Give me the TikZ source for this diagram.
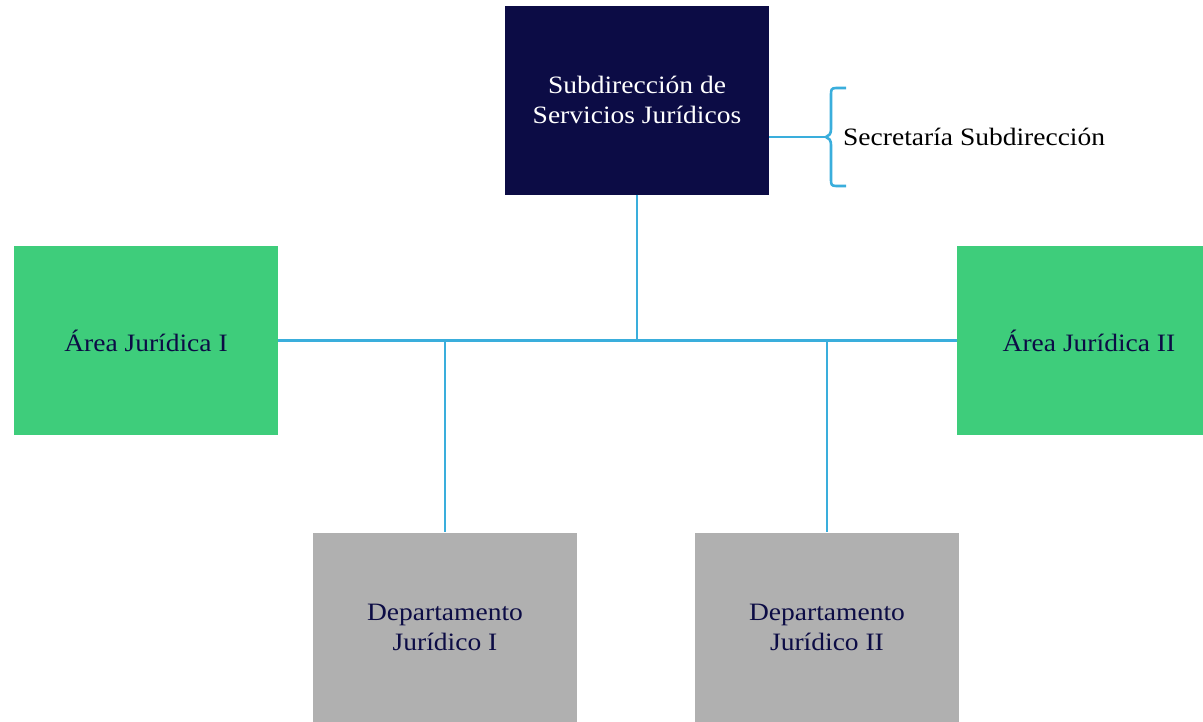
\documentclass[tikz,border=0pt]{standalone}
\usepackage{fontspec}
\setmainfont[FakeStretch=1.1]{Liberation Serif}
\begin{document}
\begin{tikzpicture}[x=1pt,y=-1pt,
  lbl/.style={font=\fontsize{25}{30}\selectfont},
  box/.style={rectangle, inner sep=0pt, minimum width=264pt, minimum height=189pt, align=center, lbl},
  topbox/.style={box, fill=navy, text=white},
  areabox/.style={box, fill=green, text=navy},
  deptbox/.style={box, fill=grayb, text=navy},
  link/.style={draw=linkblue, line width=2.8pt},
]
\definecolor{navy}{HTML}{0C0C45}
\definecolor{green}{HTML}{3ECD7B}
\definecolor{grayb}{HTML}{B0B0B0}
\definecolor{linkblue}{HTML}{3AAEDC}
\useasboundingbox (0,0) rectangle (1203,721);
\clip (0,0) rectangle (1203,721);
\node[topbox] (top) at (637,100) {Subdirección de\\Servicios Jurídicos};
\node[areabox] (a1) at (146,340.5) {Área Jurídica I};
\node[areabox] (a2) at (1089,340.5) {Área Jurídica II};
\node[deptbox] (d1) at (445,627) {Departamento\\Jurídico I};
\node[deptbox] (d2) at (827,627) {Departamento\\Jurídico II};
\coordinate (hub) at (637,340.5);
\coordinate (j1) at (445,340.5);
\coordinate (j2) at (827,340.5);
\coordinate (tip) at (826,137);
\node[anchor=west, lbl, text=black, inner sep=0pt] (sec) at (843,137) {Secretaría Subdirección};
\draw[link] (top.south) -- (hub);
\draw[link] (a1.east) -- (a2.west);
\draw[link] (j1) -- (d1.north);
\draw[link] (j2) -- (d2.north);
\draw[link] (top.east |- tip) -- (tip);
\draw[draw=linkblue, line width=2.6pt, line join=round]
  (846,88) -- (836,88) .. controls (831,88) and (831,90) .. (831,95)
  -- (831,129) .. controls (831,134) and (829,136) .. (tip)
  .. controls (829,138) and (831,140) .. (831,145)
  -- (831,179) .. controls (831,184) and (831,186) .. (836,186) -- (846,186);
\end{tikzpicture}
\end{document}
